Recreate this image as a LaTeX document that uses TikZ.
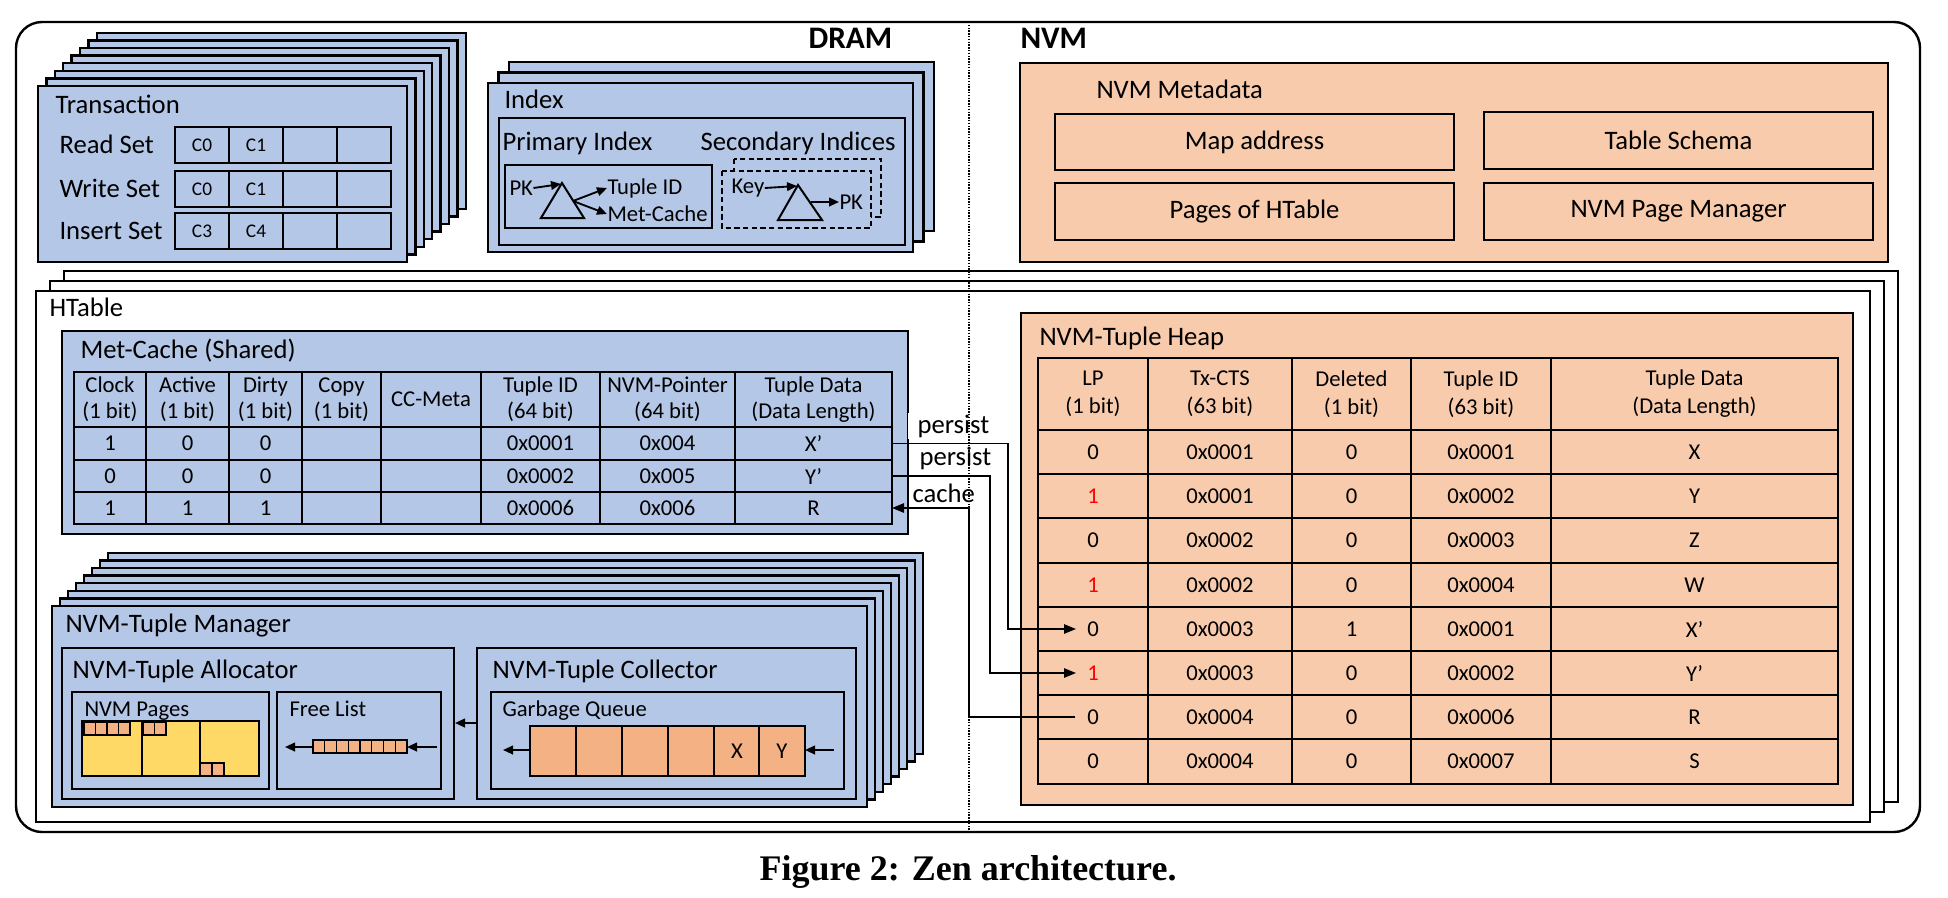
\documentclass[tikz,border=0pt]{standalone}
\usepackage{fontspec}
\setmainfont{Carlito}
\newfontfamily\capfont{Liberation Serif}
\usetikzlibrary{arrows.meta}

\definecolor{dramblue}{RGB}{180,199,231}
\definecolor{nvmpeach}{RGB}{248,203,173}
\definecolor{queuesalmon}{RGB}{244,177,131}
\definecolor{pageyellow}{RGB}{255,217,102}

\tikzset{every picture/.style={line width=0.75pt},
  drambox/.style={draw, fill=dramblue, line width=1.8pt},
  nvmbox/.style={draw, fill=nvmpeach, line width=1.8pt},
  htbox/.style={draw, fill=white, line width=1.8pt},
  tabline/.style={line width=1.7pt},
  boxtitle/.style={anchor=base west, inner sep=0pt, font=\fontsize{20}{24}\selectfont},
  subtitle/.style={anchor=base west, inner sep=0pt, font=\fontsize{17}{20}\selectfont},
  cell/.style={inner sep=0pt, align=center, font=\fontsize{17}{20}\selectfont},
  ptr/.style={line width=1.3pt, -{Triangle[length=9pt,width=7pt]}},
  smallptr/.style={line width=1.4pt, -{Triangle[length=7.5pt,width=6.5pt]}},
}

\begin{document}
\begin{tikzpicture}[x=0.75pt,y=0.75pt,yscale=-1,xscale=1]
\useasboundingbox (0,0) rectangle (1948,897);

%Shape: Rounded Rect [id:outer]
\draw[line width=1.8pt, rounded corners=19.5pt] (16,22) rectangle (1920,832);

%Shape: Transaction stack
\foreach \i in {7,...,1}
  \draw[drambox] ({38+8.4*\i},{86-7.6*\i}) rectangle ({407+8.4*\i},{262-7.6*\i});
\draw[drambox] (38,86) rectangle (407,262);
% Text Node
\node[boxtitle] (txn) at (55,113) {Transaction};
\node[boxtitle] (rset) at (59,153) {Read Set};
\node[boxtitle] (wset) at (59,197) {Write Set};
\node[boxtitle] (iset) at (59,239) {Insert Set};
\foreach \y/\a/\b [count=\k] in {127/C0/C1, 171/C0/C1, 213/C3/C4}{
  \draw[tabline] (175,\y) rectangle (391,{\y+36});
  \foreach \x in {229,283,337} \draw[tabline] (\x,\y) -- (\x,{\y+36});
  \node[cell, font=\fontsize{14.5}{17}\selectfont] (ca\k) at (202,{\y+18}) {\a};
  \node[cell, font=\fontsize{14.5}{17}\selectfont] (cb\k) at (256,{\y+18}) {\b};
}

%Shape: Index stack
\foreach \i in {2,1}
  \draw[drambox] ({488+10.5*\i},{83-10.5*\i}) rectangle ({913+10.5*\i},{252-10.5*\i});
\draw[drambox] (488,83) rectangle (913,252);
\draw[drambox] (499,118) rectangle (905,245);
\node[boxtitle] (idx) at (504,108) {Index};
\node[boxtitle] (pidx) at (502,150) {Primary Index};
\node[boxtitle, anchor=base east] (sidx) at (896,150) {Secondary Indices};
% primary index
\draw[drambox] (505,165) rectangle (712,228);
\draw[line width=1.5pt] (562,183) -- (584,218) -- (541,218) -- cycle;
\coordinate (pritop) at (561,184);
\coordinate (prifork) at (573,201);
\node[subtitle, anchor=west] (pk) at (509,188) {PK};
\node[subtitle, anchor=west] (tid) at (607,188) {Tuple ID};
\node[subtitle, anchor=west] (mcref) at (607,214) {Met-Cache};
\draw[smallptr] (pk.east) -- (pritop);
\draw[smallptr] (prifork) -- (tid.west);
\draw[smallptr] (prifork) -- (mcref.west);
% secondary indices
\draw[drambox, line width=1.5pt, dash pattern=on 4pt off 2.5pt] (734,159) rectangle (881,217);
\draw[drambox, line width=1.5pt, dash pattern=on 4pt off 2.5pt] (722,171) rectangle (871,228);
\draw[line width=1.5pt] (798,185) -- (822,220) -- (778,220) -- cycle;
\coordinate (sectop) at (797,186);
\coordinate (secright) at (811,202);
\node[subtitle, anchor=west] (key) at (731,188) {Key};
\node[subtitle, anchor=west] (spk) at (839,202) {PK};
\draw[smallptr] (key.east) -- (sectop);
\draw[smallptr] (secright) -- (spk.west);

%Shape: NVM Metadata
\draw[nvmbox] (1020,63) rectangle (1888,262);
\node[boxtitle] (nvmmeta) at (1096,98) {NVM Metadata};
\draw[line width=1.8pt] (1055,114) rectangle node[font=\fontsize{20}{24}\selectfont] (mapaddr) {Map address} (1454,170);
\draw[line width=1.8pt] (1484,112) rectangle node[font=\fontsize{20}{24}\selectfont] (schema) {Table Schema} (1873,169);
\draw[line width=1.8pt] (1055,183) rectangle node[font=\fontsize{20}{24}\selectfont] (pages) {Pages of HTable} (1454,240);
\draw[line width=1.8pt] (1484,183) rectangle node[font=\fontsize{20}{24}\selectfont] (pagemgr) {NVM Page Manager} (1873,240);

%Shape: HTable stack
\foreach \i in {2,1}
  \draw[htbox] ({36+14*\i},{291-10*\i}) rectangle ({1870+14*\i},{822-10*\i});
\draw[htbox] (36,291) rectangle (1870,822);
\node[boxtitle] (htable) at (49,316) {HTable};

%Shape: Met-Cache
\draw[drambox] (62,331) rectangle (908,534);
\node[boxtitle] (metcache) at (80,358) {Met-Cache (Shared)};
\draw[tabline] (74,372) rectangle (892,524);
\foreach \x in {146,229,302,381,481,600,735} \draw[tabline] (\x,372) -- (\x,524);
\foreach \y in {427,460,492} \draw[tabline] (74,\y) -- (892,\y);
\foreach \x/\t [count=\c] in {110/{Clock\\(1 bit)}, 187.5/{Active\\(1 bit)}, 265.5/{Dirty\\(1 bit)}, 341.5/{Copy\\(1 bit)}, 431/{CC-Meta}, 540.5/{Tuple ID\\(64 bit)}, 667.5/{NVM-Pointer\\(64 bit)}, 813.5/{Tuple Data\\(Data Length)}}
  \node[cell, font=\fontsize{17}{19.5}\selectfont] (mch-\c) at (\x,399.5) {\t};
\foreach \y/\a/\b/\d/\t/\p/\v [count=\r] in {443.5/1/0/0/0x0001/0x004/X’, 476/0/0/0/0x0002/0x005/Y’, 508/1/1/1/0x0006/0x006/R}{
  \node[cell] (mc-\r-1) at (110,\y) {\a};
  \node[cell] (mc-\r-2) at (187.5,\y) {\b};
  \node[cell] (mc-\r-3) at (265.5,\y) {\d};
  \node[cell] (mc-\r-6) at (540.5,\y) {\t};
  \node[cell] (mc-\r-7) at (667.5,\y) {\p};
  \node[cell] (mc-\r-8) at (813.5,\y) {\v};
}

%Shape: NVM-Tuple Manager stack
\foreach \i in {7,...,1}
  \draw[drambox] ({52+8*\i},{606-7.6*\i}) rectangle ({867+8*\i},{807-7.6*\i});
\draw[drambox] (52,606) rectangle (867,807);
\node[boxtitle] (mgr) at (65,632) {NVM-Tuple Manager};
% allocator
\draw[drambox] (62,648) rectangle (454,799);
\node[boxtitle] (alloc) at (72,678) {NVM-Tuple Allocator};
\draw[drambox] (72,692) rectangle (269,789);
\node[subtitle] (nvmpages) at (84,716) {NVM Pages};
\draw[line width=1.6pt, fill=pageyellow] (82,721) rectangle (259,776);
\draw[line width=1.3pt] (142,721) -- (142,776) (200,721) -- (200,776);
\foreach \x in {84,95.5,107,118.5,143,154.5}
  \draw[line width=1.1pt, fill=queuesalmon] (\x,722) rectangle ({\x+11.5},735);
\foreach \x in {200,212}
  \draw[line width=1.1pt, fill=queuesalmon] (\x,763) rectangle ({\x+12},776);
\draw[drambox] (277,692) rectangle (441,789);
\node[subtitle] (freelist) at (289,716) {Free List};
\foreach \i in {0,...,7}
  \draw[line width=1.1pt, fill=queuesalmon] ({313+11.75*\i},740) rectangle ({313+11.75*(\i+1)},753);
\coordinate (flin) at (437,747);
\coordinate (flhead) at (407,747);
\coordinate (fltail) at (313,747);
\coordinate (flout) at (285,747);
\draw[smallptr] (flin) -- (flhead);
\draw[smallptr] (fltail) -- (flout);
% collector
\draw[drambox] (477,648) rectangle (856,799);
\node[boxtitle] (coll) at (492,678) {NVM-Tuple Collector};
\draw[drambox] (491,692) rectangle (844,789);
\node[subtitle] (gq) at (502,716) {Garbage Queue};
\foreach \x in {530,576,622,668,714,759}
  \draw[line width=1.6pt, fill=queuesalmon] (\x,726) rectangle ({\x+46},776);
\node[cell] (gqx) at (737,751) {X};
\node[cell] (gqy) at (782,751) {Y};
\coordinate (gqin) at (834,750);
\coordinate (gqhead) at (805,750);
\coordinate (gqtail) at (530,750);
\coordinate (gqout) at (503,750);
\draw[smallptr] (gqin) -- (gqhead);
\draw[smallptr] (gqtail) -- (gqout);
\coordinate (collw) at (477,723);
\coordinate (alloce) at (455,723);
\draw[smallptr] (collw) -- (alloce);

%Shape: NVM-Tuple Heap
\draw[nvmbox] (1021,313) rectangle (1853,805);
\node[boxtitle] (heap) at (1039,345) {NVM-Tuple Heap};
\draw[tabline] (1038,358) rectangle (1838,784);
\foreach \x in {1148,1292,1411,1551} \draw[tabline] (\x,358) -- (\x,784);
\foreach \y in {430,474,518,563,607,651,695,739} \draw[tabline] (1038,\y) -- (1838,\y);
\foreach \x/\t [count=\c] in {1093/{LP\\(1 bit)}, 1220/{Tx-CTS\\(63 bit)}, 1351.5/{Deleted\\(1 bit)}, 1481/{Tuple ID\\(63 bit)}, 1694.5/{Tuple Data\\(Data Length)}}
  \node[cell, font=\fontsize{17}{21}\selectfont] (hph-\c) at (\x,394) {\t};
\foreach \y/\l/\s/\d/\t/\v [count=\r] in {452/0/0x0001/0/0x0001/X, 496/\textcolor{red}{1}/0x0001/0/0x0002/Y, 540.5/0/0x0002/0/0x0003/Z, 585/\textcolor{red}{1}/0x0002/0/0x0004/W, 629/0/0x0003/1/0x0001/X’, 673/\textcolor{red}{1}/0x0003/0/0x0002/Y’, 717/0/0x0004/0/0x0006/R, 761.5/0/0x0004/0/0x0007/S}{
  \node[cell] (hp-\r-1) at (1093,\y) {\l};
  \node[cell] (hp-\r-2) at (1220,\y) {\s};
  \node[cell] (hp-\r-3) at (1351.5,\y) {\d};
  \node[cell] (hp-\r-4) at (1481,\y) {\t};
  \node[cell] (hp-\r-5) at (1694.5,\y) {\v};
}

%Curve Lines: persist / cache
\coordinate (mcXout) at (892,443.5);
\coordinate (mcYout) at (892,476);
\coordinate (mcRin) at (892,508);
\coordinate (bendX) at (1008,629);
\coordinate (bendY) at (990,673);
\coordinate (bendR) at (969,717);
\coordinate (hpXin) at (1076,629);
\coordinate (hpYin) at (1076,673);
\coordinate (hpRout) at (1075,717);
\node[boxtitle, fill=white, inner xsep=7.5pt, inner ysep=1pt] (persistx) at (907,433) {persist};
\draw[ptr] (mcXout) -| (bendX) -- (hpXin);
\draw[ptr] (mcYout) -| (bendY) -- (hpYin);
\draw[ptr] (hpRout) -- (bendR) |- (mcRin);
\node[boxtitle] (persisty) at (919,465) {persist};
\node[boxtitle] (cachel) at (912,502) {cache};

% Text Node
\node[anchor=base west, inner sep=0pt, font=\bfseries\fontsize{23.5}{28}\selectfont] (dram) at (808,48) {DRAM};
\node[anchor=base west, inner sep=0pt, font=\bfseries\fontsize{23.5}{28}\selectfont] (nvm) at (1020,48) {NVM};

%Straight Lines: DRAM / NVM border
\draw[line width=1.1pt, densely dotted] (969,22) -- (969,832);

% Text Node
\node[anchor=base, inner sep=0pt, font=\capfont\bfseries\fontsize{27}{32}\selectfont] (caption) at (968,880) {Figure 2: Zen architecture.};

\end{tikzpicture}
\end{document}
